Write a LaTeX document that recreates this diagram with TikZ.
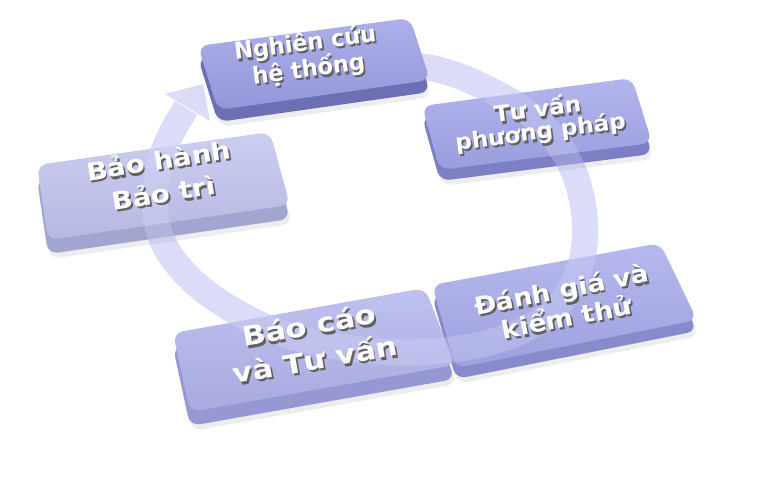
\documentclass[tikz,border=0pt]{standalone}
\usepackage{fontspec}
\setmainfont{DejaVu Sans}
\definecolor{ringc}{HTML}{DADCF8}
\definecolor{cA}{HTML}{9B9EE5}\definecolor{sA}{HTML}{6C6FB4}
\definecolor{cB}{HTML}{A2A5E9}\definecolor{sB}{HTML}{7C7FC4}
\definecolor{cC}{HTML}{C0C2EE}\definecolor{sC}{HTML}{A2A4D2}
\definecolor{cD}{HTML}{B1B3EC}\definecolor{sD}{HTML}{9598D3}
\definecolor{cE}{HTML}{A6A9EA}\definecolor{sE}{HTML}{878ACB}
\tikzset{
  ringline/.style={draw=ringc, line width=26pt},
  lbl/.style={text=white, align=center, inner sep=0pt},
  lblshadow/.style={lbl, text=black!62},
}
\newcommand\pbox[7]{%
  \fill[black, opacity=0.07, rounded corners=10pt, shift={(2,#5+5)}] #1 -- #2 -- #3 -- #4 -- cycle;
  \fill[#7, rounded corners=10pt, shift={(0,#5)}] #1 -- #2 -- #3 -- #4 -- cycle;
  \shade[rounded corners=10pt, top color=#6!82!white, bottom color=#6!95!black] #1 -- #2 -- #3 -- #4 -- cycle;
}
\newcommand\plabel[8]{%
  \node[lblshadow, font=\fontsize{#6}{#7}\selectfont\bfseries, rotate=#4, xscale=#5, yscale=1.06] (#1s) at ([shift={(1.8,2.4)}]#2,#3) {#8};
  \node[lbl, font=\fontsize{#6}{#7}\selectfont\bfseries, rotate=#4, xscale=#5, yscale=1.06] (#1) at (#2,#3) {#8};
}
\begin{document}
\begin{tikzpicture}[x=1pt,y=-1pt]
\useasboundingbox (0,0) rectangle (768,483);
\fill[white] (0,0) rectangle (768,483);
% circular arrow
\draw[ringline] plot[smooth, tension=0.6] coordinates {(385,62) (440,70) (490,90) (540,122) (573,170) (585,225) (577,275) (548,315) (495,341) (425,352) (355,349) (290,336) (238,313) (195,283) (166,248) (155,210) (158,172) (168,140) (186,108)};
\fill[ringc] (165,94) -- (203,84) -- (210,121) -- cycle;
% boxes
\pbox{(198,46)}{(410,18)}{(430,80)}{(218,110)}{12}{cA}{sA}
\pbox{(422,106)}{(632,78)}{(652,143)}{(440,170)}{11}{cB}{sB}
\pbox{(37,165)}{(270,132)}{(290,205)}{(48,240)}{14}{cC}{sC}
\pbox{(432,285)}{(660,243)}{(697,320)}{(456,368)}{11}{cE}{sE}
\pbox{(173,333)}{(425,288)}{(455,365)}{(190,412)}{14}{cD}{sD}
% ring seen through the boxes
\draw[ringline, opacity=0.3] plot[smooth, tension=0.6] coordinates {(490,90) (540,122) (573,170) (585,225) (577,275) (548,315) (495,341) (425,352) (355,349) (290,336) (238,313) (195,283) (166,248) (155,210) (158,172) (168,140) (186,108)};
% labels
\plabel{t1}{307}{57}{7.5}{1.02}{22}{18}{Nghiên cứu\\hệ thống}
\plabel{t2}{539}{121}{7.5}{1.1}{21}{21}{Tư vấn\\phương pháp}
\plabel{t3}{161}{176}{9}{1.2}{23}{31}{Bảo hành\\Bảo trì}
\plabel{t4}{312}{342}{10}{1.22}{25}{33}{Báo cáo\\và Tư vấn}
\plabel{t5}{564}{303}{11}{1.15}{23}{27}{Đánh giá và\\kiểm thử}
\end{tikzpicture}
\end{document}
